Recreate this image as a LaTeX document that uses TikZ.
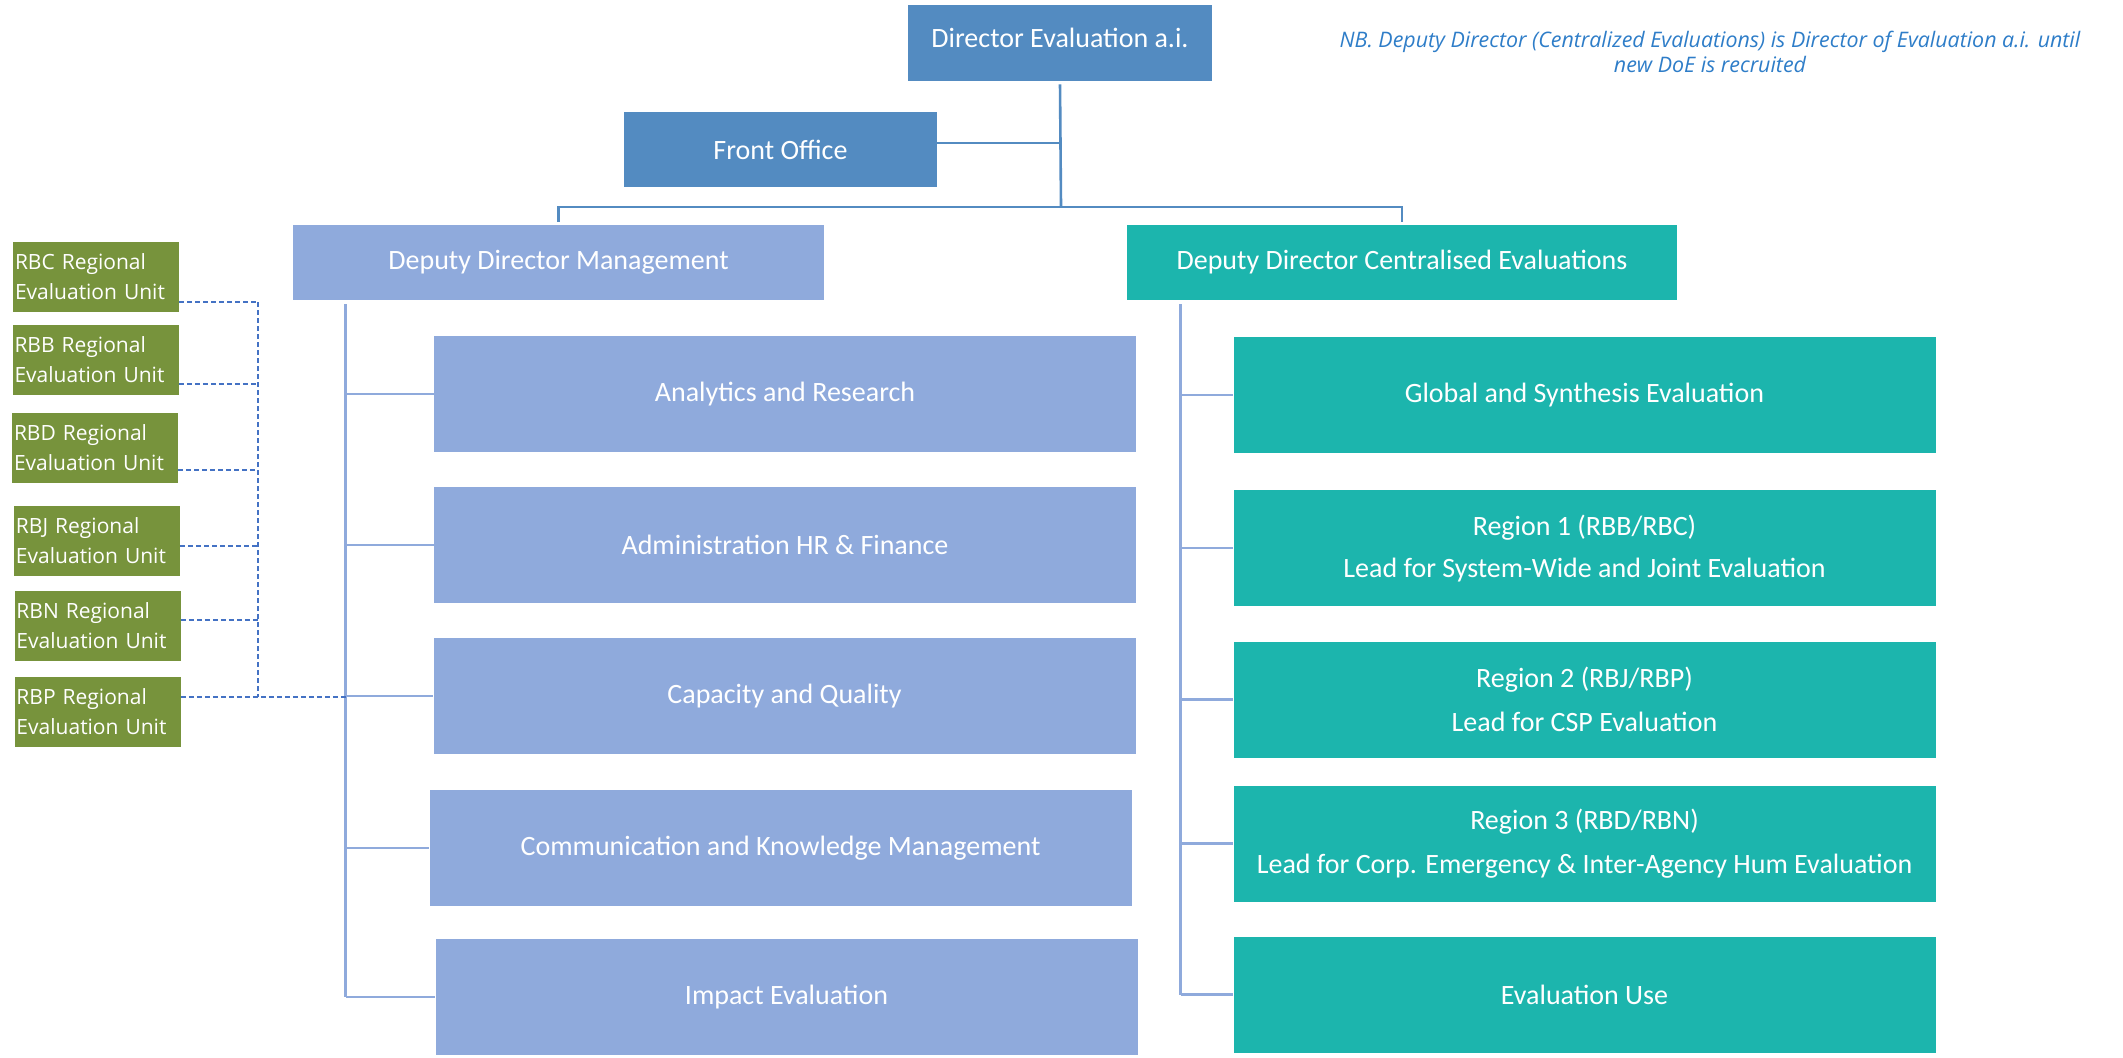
\documentclass[tikz,border=0pt]{standalone}
\usepackage{fontspec}
\setmainfont{Carlito}
\newfontfamily\notefont{Open Sans}
\usetikzlibrary{positioning}
\definecolor{dirblue}{RGB}{83,139,193}
\definecolor{mgmtblue}{RGB}{143,170,220}
\definecolor{cevteal}{RGB}{28,181,173}
\definecolor{rbgreen}{RGB}{119,147,60}
\definecolor{linkblue}{RGB}{68,114,196}
\definecolor{noteblue}{RGB}{46,125,200}

\begin{document}
\begin{tikzpicture}[x=0.5pt,y=-0.5pt,
  unit/.style={fill=#1,text=white,inner sep=2pt,align=center,font=\fontsize{14}{17}\selectfont},
  headbox/.style={unit=#1,minimum height=37.5pt},
  subbox/.style={unit=#1,minimum width=351pt,minimum height=58pt},
  rbunit/.style={fill=rbgreen,text=white,text width=81pt,align=left,minimum height=35pt,inner xsep=1pt,inner ysep=0pt,font=\notefont\fontsize{10.5}{15}\selectfont},
  busline/.style={draw=dirblue,line width=1.3pt},
  trunk/.style={draw=mgmtblue,line width=1.3pt},
  dashlink/.style={draw=linkblue,line width=0.9pt,dash pattern=on 2.5pt off 1.5pt}]
\useasboundingbox (0,0) rectangle (2123,1057);

% Top level
\node[headbox=dirblue,minimum width=152pt,minimum height=38pt,text depth=5pt] (dir) at (1060,43) {Director Evaluation a.i.};
\node[headbox=dirblue,minimum width=156.5pt] (front) at (780.5,149.5) {Front Office};

% Deputy directors
\node[headbox=mgmtblue,minimum width=265.5pt] (ddm) at (558.5,262.5) {Deputy Director Management};
\node[headbox=cevteal,minimum width=275pt] (ddc) at (1402,262.5) {Deputy Director Centralised Evaluations};

% Management units
\node[subbox=mgmtblue] (ana) at (785,394) {Analytics and Research};
\node[subbox=mgmtblue] (adm) at (785,545) {Administration HR \& Finance};
\node[subbox=mgmtblue] (cap) at (784.5,696) {Capacity and Quality};
\node[subbox=mgmtblue] (com) at (780.5,848) {Communication and Knowledge Management};
\node[subbox=mgmtblue] (imp) at (786.5,997) {Impact Evaluation};

% Centralised evaluation units
\node[subbox=cevteal] (glo) at (1584.5,395) {Global and Synthesis Evaluation};
\node[subbox=cevteal] (rone) at (1584.5,548) {Region 1 (RBB/RBC)\\[4pt]Lead for System-Wide and Joint Evaluation};
\node[subbox=cevteal] (rtwo) at (1584.5,699.5) {Region 2 (RBJ/RBP)\\[5pt]Lead for CSP Evaluation};
\node[subbox=cevteal] (rthree) at (1584.5,843.5) {Region 3 (RBD/RBN)\\[5pt]Lead for Corp. Emergency \& Inter-Agency Hum Evaluation};
\node[subbox=cevteal] (use) at (1584.5,994.5) {Evaluation Use};

% Regional evaluation units
\node[rbunit] (rbc) at (96,277) {RBC Regional\\Evaluation Unit};
\node[rbunit] (rbb) at (95.5,359.5) {RBB Regional\\Evaluation Unit};
\node[rbunit] (rbd) at (95,448) {RBD Regional\\Evaluation Unit};
\node[rbunit] (rbj) at (97,541) {RBJ Regional\\Evaluation Unit};
\node[rbunit] (rbn) at (97.5,625.5) {RBN Regional\\Evaluation Unit};
\node[rbunit] (rbp) at (97.5,711.5) {RBP Regional\\Evaluation Unit};

% Note
\node[text=noteblue,align=center,font=\notefont\itshape\fontsize{10.7}{12.5}\selectfont] (nb) at (1710,52)
  {NB. Deputy Director (Centralized Evaluations) is Director of Evaluation a.i. until\\new DoE is recruited};

% Bus
\coordinate (bus) at (1061,207);
\draw[busline] ([yshift=-1.5pt]dir.south) -- (bus);
\draw[busline] ([yshift=3.25pt]front.east) -- ([yshift=3.25pt]front.east -| bus);
\draw[busline] ([yshift=1.5pt]ddm.north) |- (bus) -| ([yshift=1.5pt]ddc.north);

% Trunks
\coordinate (mtop) at ([xshift=26.5pt,yshift=-2pt]ddm.south west);
\coordinate (ctop) at ([xshift=27pt,yshift=-2pt]ddc.south west);
\draw[trunk] (mtop) -- (mtop |- imp.west);
\draw[trunk] (ctop) -- (ctop |- use.west);
\foreach \b in {ana,adm,cap,com,imp}
  \draw[trunk] (mtop |- \b.west) -- (\b.west);
\foreach \b in {glo,rone,rtwo,rthree,use}
  \draw[trunk] (ctop |- \b.west) -- (\b.west);

% Dotted links to regional units
\coordinate (spine) at (258,302);
\foreach \n/\d in {rbc/-12.5pt,rbb/-12.25pt,rbd/-11pt,rbj/-2.5pt,rbn/2.75pt}
  \draw[dashlink] ([yshift=\d]\n.east) -- ([yshift=\d]\n.east -| spine);
\draw[dashlink] (spine) -- ([yshift=7.25pt]rbp.east -| spine);
\draw[dashlink] ([yshift=7.25pt]rbp.east) -- ([yshift=7.25pt]rbp.east -| mtop);
\end{tikzpicture}
\end{document}
